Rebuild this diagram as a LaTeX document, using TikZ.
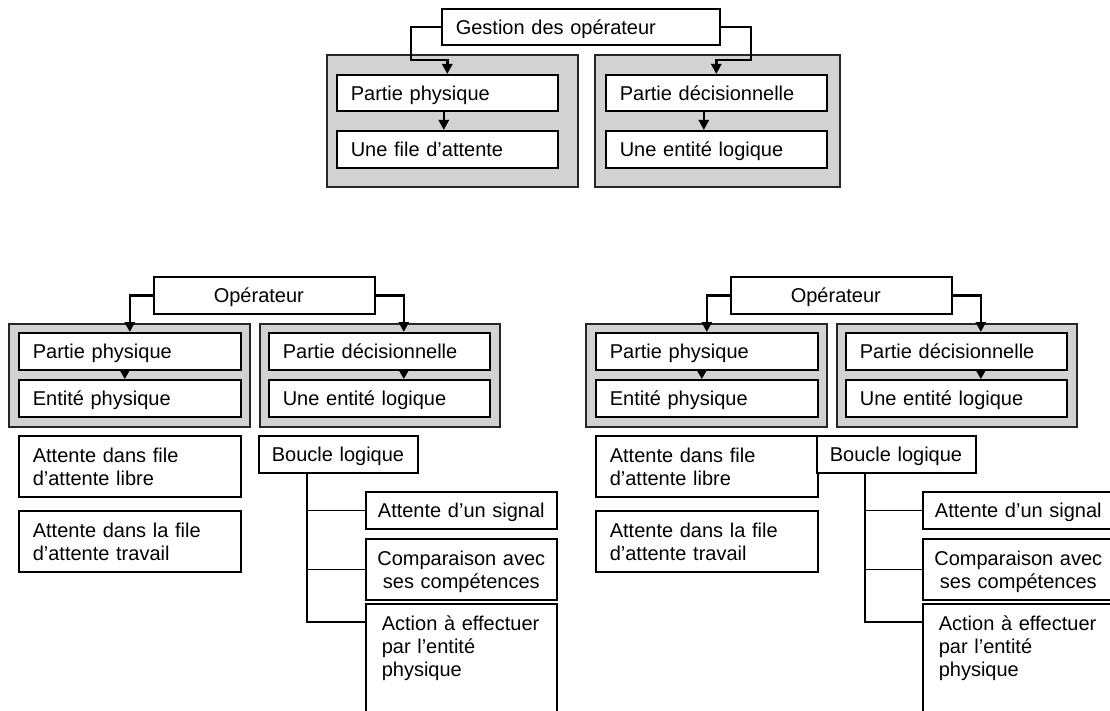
\documentclass[tikz,border=0pt]{standalone}
\usepackage{fontspec}
\setmainfont{Liberation Sans}
\usetikzlibrary{arrows.meta,calc}
\definecolor{boxgray}{RGB}{210,210,210}
\tikzset{
  bx/.style={draw=black, line width=1.6pt, fill=white, rectangle, anchor=north west,
    inner ysep=0pt, font=\fontsize{20}{23}\selectfont, text height=14.6pt},
  one/.style={text depth=0pt},
  two/.style={text depth=23pt},
  lft/.style={align=left, inner xsep=14pt},
  graybox/.style={draw=black!85, line width=1.9pt, fill=boxgray, rectangle, anchor=north west, inner sep=0pt},
  conn/.style={line width=2.5pt, -{Triangle[length=10pt,width=10pt]}},
  smallarr/.style={line width=1.6pt, -{Triangle[length=10pt,width=11pt]}},
  branch/.style={line width=1.6pt}
}
% #1 prefix, #2 x offset, #3 boucle x, #4 branch boxes x
\newcommand\OpSection[4]{%
  \node[graybox, minimum width=241pt, minimum height=103pt] (#1g1) at ({#2+8},323) {};
  \node[graybox, minimum width=240pt, minimum height=103pt] (#1g2) at ({#2+259},323) {};
  \node[bx, one, align=left, inner xsep=60pt, text width=101pt, minimum height=37pt] (#1op) at ({#2+153},276) {Opérateur};
  \node[bx, one, lft, text width=194pt, minimum height=37pt] (#1p1) at ({#2+18},332) {Partie physique};
  \node[bx, one, lft, text width=194pt, minimum height=37pt] (#1p2) at ({#2+18},379) {Entité physique};
  \node[bx, one, lft, text width=193pt, minimum height=37pt] (#1d1) at ({#2+268},332) {Partie décisionnelle};
  \node[bx, one, lft, text width=193pt, minimum height=37pt] (#1d2) at ({#2+268},379) {Une entité logique};
  \node[bx, two, lft, text width=194pt, minimum height=61pt] (#1wa) at ({#2+18},435) {Attente dans file\\d’attente libre};
  \node[bx, two, lft, text width=194pt, minimum height=61pt] (#1wb) at ({#2+18},510) {Attente dans la file\\d’attente travail};
  \node[bx, one, align=left, inner xsep=13pt, text width=133pt, minimum height=37pt] (#1bl) at (#3,435) {Boucle logique};
  \node[bx, one, align=center, inner xsep=8pt, text width=175pt, minimum height=37pt] (#1sg) at (#4,491) {Attente d’un signal};
  \node[bx, two, align=center, inner xsep=8pt, text width=175pt, minimum height=61pt] (#1cp) at (#4,538) {Comparaison avec\\ses compétences};
  \node[bx, align=left, inner xsep=16pt, inner ysep=12.4pt, text width=159pt, text depth=110pt] (#1ac) at (#4,603) {Action à effectuer\\par l’entité\\physique};
  \draw[conn] (#1op.west) -| (#1p1.north);
  \draw[conn] (#1op.east) -| ($(#1d1.north)+(24.5,0)$);
  \draw[smallarr] ($(#1p1.south)+(-5,0)$) -- ($(#1p2.north)+(-5,0)$);
  \draw[smallarr] ($(#1d1.south)+(24.5,0)$) -- ($(#1d2.north)+(24.5,0)$);
  \coordinate (#1v) at ($(#1bl.south west)+(49,0)$);
  \draw[branch] (#1v) |- (#1sg.west);
  \draw[branch] (#1v) |- (#1cp.west);
  \draw[branch] (#1v) |- ($(#1ac.north west)+(0,19)$);
}
\begin{document}
\begin{tikzpicture}[x=1pt, y=-1pt]
  \useasboundingbox (0,0) rectangle (1110,711);
  \clip (0,0) rectangle (1110,711);
  \fill[white] (0,0) rectangle (1110,711);
  % top section
  \node[graybox, minimum width=251pt, minimum height=132pt] (gL) at (326,54) {};
  \node[graybox, minimum width=245pt, minimum height=132pt] (gR) at (594,54) {};
  \node[bx, one, lft, text width=250pt, minimum height=36pt] (gestion) at (441,8) {Gestion des opérateur};
  \node[bx, one, lft, text width=193pt, minimum height=36pt] (tl1) at (336,74) {Partie physique};
  \node[bx, one, lft, text width=193pt, minimum height=37pt] (tl2) at (336,130) {Une file d’attente};
  \node[bx, one, lft, text width=193pt, minimum height=36pt] (tr1) at (605,74) {Partie décisionnelle};
  \node[bx, one, lft, text width=193pt, minimum height=37pt] (tr2) at (605,130) {Une entité logique};
  \coordinate (tjl) at (411,60);
  \coordinate (tjr) at (751,60);
  \draw[conn] (gestion.west) -| (tjl) -| (tl1.north);
  \draw[conn] (gestion.east) -| (tjr) -| (tr1.north);
  \draw[conn] ($(tl1.south)+(-3.5,0)$) -- ($(tl2.north)+(-3.5,0)$);
  \draw[conn] ($(tr1.south)+(-12.5,0)$) -- ($(tr2.north)+(-12.5,0)$);
  % bottom sections
  \OpSection{l}{0}{258}{365}
  \OpSection{r}{577}{816}{922}
\end{tikzpicture}
\end{document}
